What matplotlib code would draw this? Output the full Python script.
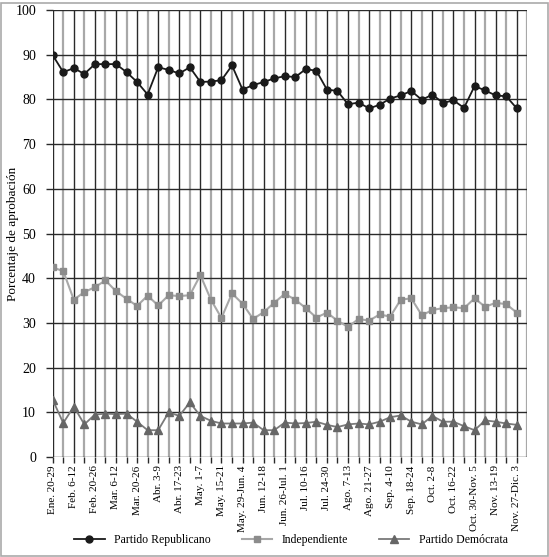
import matplotlib.pyplot as plt
from matplotlib.patches import Rectangle

# poll labels (every other week is labelled)
labels = ["Ene. 20-29", "Feb. 6-12", "Feb. 20-26", "Mar. 6-12", "Mar. 20-26",
          "Abr. 3-9", "Abr. 17-23", "May. 1-7", "May. 15-21", "May. 29-Jun. 4",
          "Jun. 12-18", "Jun. 26-Jul. 1", "Jul. 10-16", "Jul. 24-30", "Ago. 7-13",
          "Ago. 21-27", "Sep. 4-10", "Sep. 18-24", "Oct. 2-8", "Oct. 16-22",
          "Oct. 30-Nov. 5", "Nov. 13-19", "Nov. 27-Dic. 3"]

republicano = [89.9, 86.1, 87.0, 85.7, 87.9, 87.9, 87.9, 86.1, 83.9, 81.1,
               87.2, 86.6, 85.8, 87.2, 83.9, 84.0, 84.3, 87.6, 82.2, 83.2,
               83.9, 84.7, 85.2, 85.0, 86.8, 86.4, 82.2, 81.9, 78.9, 79.3,
               78.0, 78.8, 80.2, 80.9, 81.9, 79.9, 81.1, 79.2, 79.8, 78.1,
               83.0, 82.0, 80.9, 80.7, 78.0]

independiente = [42.4, 41.6, 35.2, 36.9, 38.0, 39.5, 37.1, 35.4, 33.8, 36.1,
                 33.9, 36.2, 36.0, 36.2, 40.7, 35.2, 31.1, 36.6, 34.3, 30.9,
                 32.4, 34.5, 36.5, 35.2, 33.3, 31.2, 32.3, 30.5, 29.1, 30.9,
                 30.5, 31.9, 31.4, 35.2, 35.5, 31.7, 32.9, 33.3, 33.5, 33.3,
                 35.5, 33.6, 34.5, 34.2, 32.3]

democrata = [12.8, 7.6, 11.3, 7.3, 9.5, 9.7, 9.6, 9.7, 7.9, 6.0,
             6.0, 10.0, 9.2, 12.2, 9.2, 8.1, 7.5, 7.5, 7.5, 7.7,
             6.0, 6.0, 7.7, 7.5, 7.6, 7.9, 7.2, 6.7, 7.3, 7.5,
             7.3, 7.9, 8.9, 9.3, 7.9, 7.3, 9.2, 7.9, 7.9, 6.9,
             6.0, 8.2, 7.9, 7.5, 7.2]

plt.rcParams['font.family'] = ['Liberation Serif', 'DejaVu Serif']

x = list(range(len(republicano)))

fig = plt.figure(figsize=(5.49, 5.57), dpi=100)
fig.patches.append(Rectangle((0.002, 0.002), 0.996, 0.993, transform=fig.transFigure,
                             fill=False, edgecolor='#aaaaaa', linewidth=1.2))
ax = fig.add_axes([0.096, 0.1795, 0.8645, 0.8025])

# grid: dark lines on labelled weeks, gray on the others
for i in range(len(x) + 1):
    if i % 2 == 0 and i < len(x):
        ax.axvline(i, color='#2a2a2a', linewidth=1.0, zorder=1)
    else:
        ax.axvline(i, color='#a8a8a8', linewidth=1.6, zorder=1)
for v in range(0, 101, 10):
    ax.axhline(v, color='#2a2a2a', linewidth=1.0, zorder=1)

ax.plot(x, republicano, color='#1a1a1a', marker='o', markersize=5, linewidth=1.3,
        label='Partido Republicano', zorder=3)
ax.plot(x, independiente, color='#a8a8a8', marker='s', markersize=5,
        markerfacecolor='#8c8c8c', markeredgecolor='#8c8c8c', linewidth=1.5,
        label='Independiente', zorder=3)
ax.plot(x, democrata, color='#7a7a7a', marker='^', markersize=6,
        markerfacecolor='#666666', markeredgecolor='#666666', linewidth=1.3,
        label='Partido Demócrata', zorder=3)

ax.set_xlim(0, len(x))
ax.set_ylim(0, 100)
ax.set_yticks(range(0, 101, 10))
ax.set_xticks(x)
ax.set_xticklabels([labels[i // 2] if i % 2 == 0 else '' for i in x], rotation=90)
ax.tick_params(axis='x', length=4, width=1, color='#2a2a2a', labelsize=8, pad=2)
ax.tick_params(axis='y', length=5, width=1, color='#2a2a2a', labelsize=10, pad=7)
for s in ax.spines.values():
    s.set_visible(False)

fig.text(0.024, 0.58, 'Porcentaje de aprobación', rotation=90, fontsize=9.5,
         ha='center', va='center')

fig.legend(loc='lower center', bbox_to_anchor=(0.53, 0.0), ncol=3, frameon=False,
           fontsize=8.5, handlelength=2.6, columnspacing=2.6)

fig.savefig('out.png', dpi=100)
